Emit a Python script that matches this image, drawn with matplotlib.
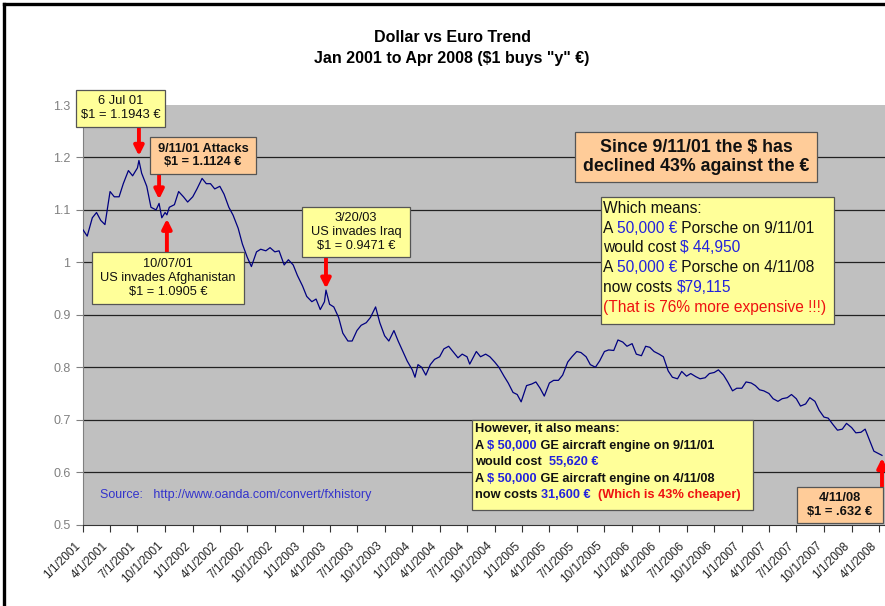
import matplotlib
matplotlib.use("Agg")
import matplotlib.pyplot as plt
import matplotlib.transforms as mtransforms
from matplotlib.patches import Rectangle
from matplotlib.lines import Line2D
import pandas as pd

# USD -> EUR rate ($1 buys y EUR)
dates = [
    "2001-01-01", "2001-01-15", "2001-02-01", "2001-02-15", "2001-03-01", "2001-03-15",
    "2001-04-01", "2001-04-15", "2001-05-01", "2001-05-15", "2001-06-01", "2001-06-15",
    "2001-07-01", "2001-07-06", "2001-07-15", "2001-08-01", "2001-08-15", "2001-09-01",
    "2001-09-11", "2001-09-20", "2001-10-01", "2001-10-07", "2001-10-15", "2001-11-01",
    "2001-11-15", "2001-12-01", "2001-12-15",
    "2002-01-01", "2002-01-15", "2002-02-01", "2002-02-15", "2002-03-01", "2002-03-15",
    "2002-04-01", "2002-04-15", "2002-05-01", "2002-05-15", "2002-06-01", "2002-06-15",
    "2002-07-01", "2002-07-15", "2002-08-01", "2002-08-15", "2002-09-01", "2002-09-15",
    "2002-10-01", "2002-10-15", "2002-11-01", "2002-11-15", "2002-12-01", "2002-12-15",
    "2003-01-01", "2003-01-15", "2003-02-01", "2003-02-15", "2003-03-01", "2003-03-15",
    "2003-03-20", "2003-04-01", "2003-04-15", "2003-05-01", "2003-05-15", "2003-06-01",
    "2003-06-15", "2003-07-01", "2003-07-15", "2003-08-01", "2003-08-15", "2003-09-01",
    "2003-09-15", "2003-10-01", "2003-10-15", "2003-11-01", "2003-11-15", "2003-12-01",
    "2003-12-15",
    "2004-01-01", "2004-01-10", "2004-01-20", "2004-02-01", "2004-02-15", "2004-03-01",
    "2004-03-15", "2004-04-01", "2004-04-15", "2004-05-01", "2004-05-15", "2004-06-01",
    "2004-06-15", "2004-07-01", "2004-07-10", "2004-08-01", "2004-08-15", "2004-09-01",
    "2004-09-15", "2004-10-01", "2004-10-15", "2004-11-01", "2004-11-15", "2004-12-01",
    "2004-12-15", "2004-12-28",
    "2005-01-15", "2005-02-01", "2005-02-15", "2005-03-01", "2005-03-15", "2005-04-01",
    "2005-04-15", "2005-05-01", "2005-05-15", "2005-06-01", "2005-06-15", "2005-07-01",
    "2005-07-15", "2005-08-01", "2005-08-15", "2005-09-01", "2005-09-15", "2005-10-01",
    "2005-10-15", "2005-11-01", "2005-11-15", "2005-12-01", "2005-12-15",
    "2006-01-01", "2006-01-15", "2006-02-01", "2006-02-15", "2006-03-01", "2006-03-15",
    "2006-04-01", "2006-04-15", "2006-05-01", "2006-05-15", "2006-06-01", "2006-06-15",
    "2006-07-01", "2006-07-15", "2006-08-01", "2006-08-15", "2006-09-01", "2006-09-15",
    "2006-10-01", "2006-10-15", "2006-11-01", "2006-11-15", "2006-12-01", "2006-12-15",
    "2007-01-01", "2007-01-15", "2007-02-01", "2007-02-15", "2007-03-01", "2007-03-15",
    "2007-04-01", "2007-04-15", "2007-05-01", "2007-05-15", "2007-06-01", "2007-06-15",
    "2007-07-01", "2007-07-15", "2007-08-01", "2007-08-15", "2007-09-01", "2007-09-15",
    "2007-10-01", "2007-10-15", "2007-11-01", "2007-11-15", "2007-12-01", "2007-12-15",
    "2008-01-01", "2008-01-15", "2008-02-01", "2008-02-15", "2008-03-01", "2008-03-15",
    "2008-04-01", "2008-04-11",
]
usd_eur = [
    1.062, 1.050, 1.085, 1.095, 1.080, 1.072,
    1.135, 1.125, 1.125, 1.150, 1.175, 1.165,
    1.180, 1.1943, 1.170, 1.145, 1.105, 1.100,
    1.1124, 1.085, 1.095, 1.0905, 1.105, 1.110,
    1.135, 1.125, 1.115,
    1.125, 1.140, 1.160, 1.150, 1.150, 1.140,
    1.145, 1.130, 1.105, 1.090, 1.065, 1.035,
    1.010, 0.992, 1.020, 1.025, 1.022, 1.028,
    1.020, 1.022, 0.995, 1.005, 0.995, 0.975,
    0.955, 0.935, 0.925, 0.930, 0.910, 0.925,
    0.9471, 0.920, 0.915, 0.895, 0.865, 0.850,
    0.850, 0.870, 0.880, 0.885, 0.895, 0.915,
    0.885, 0.860, 0.850, 0.870, 0.850, 0.830,
    0.812,
    0.795, 0.781, 0.805, 0.800, 0.785, 0.805,
    0.815, 0.820, 0.835, 0.840, 0.830, 0.818,
    0.825, 0.820, 0.806, 0.830, 0.820, 0.825,
    0.820, 0.810, 0.800, 0.783, 0.770, 0.752,
    0.748, 0.734,
    0.765, 0.768, 0.772, 0.760, 0.745, 0.770,
    0.775, 0.775, 0.785, 0.810, 0.820, 0.830,
    0.828, 0.820, 0.805, 0.800, 0.812, 0.830,
    0.833, 0.832, 0.852, 0.848, 0.840,
    0.845, 0.825, 0.822, 0.840, 0.838, 0.830,
    0.825, 0.820, 0.793, 0.781, 0.778, 0.792,
    0.783, 0.788, 0.782, 0.778, 0.780, 0.788,
    0.790, 0.795, 0.785, 0.772, 0.755, 0.760,
    0.760, 0.772, 0.770, 0.765, 0.757, 0.755,
    0.750, 0.740, 0.735, 0.740, 0.742, 0.748,
    0.740, 0.726, 0.730, 0.742, 0.735, 0.718,
    0.705, 0.703, 0.690, 0.680, 0.682, 0.693,
    0.685, 0.675, 0.676, 0.682, 0.660, 0.640,
    0.635, 0.632,
]

# annotated events
event_dates = ["2001-07-06", "2001-09-11", "2001-10-07", "2003-03-20", "2008-04-11"]
event_values = [1.1943, 1.1124, 1.0905, 0.9471, 0.632]

title1 = "Dollar vs Euro Trend"
title2 = 'Jan 2001 to Apr 2008 ($1 buys "y" \u20ac)'
source_text = "Source:   http://www.oanda.com/convert/fxhistory"

W, H = 885, 606
YELLOW = "#FFFF99"
PEACH = "#FFCC99"
BLUE = "#2222DD"
RED = "#EE1111"

plt.rcParams["font.family"] = ["Liberation Sans", "DejaVu Sans"]

fig = plt.figure(figsize=(W / 100, H / 100), dpi=100)
fig.patch.set_facecolor("white")

ax = fig.add_axes([83 / W, (H - 524.6) / H, 802 / W, (524.6 - 105) / H])
ax.set_facecolor("#C0C0C0")

x = pd.to_datetime(dates)
ax.plot(x, usd_eur, color="#000080", lw=0.9, zorder=3)

ax.set_ylim(0.5, 1.3)
ax.set_xlim(pd.Timestamp("2001-01-01"), pd.Timestamp("2008-04-21"))
ax.set_yticks([0.5, 0.6, 0.7, 0.8, 0.9, 1.0, 1.1, 1.2, 1.3])
ax.set_yticklabels(["0.5", "0.6", "0.7", "0.8", "0.9", "1", "1.1", "1.2", "1.3"])
for v in [0.6, 0.7, 0.8, 0.9, 1.0, 1.1, 1.2]:
    ax.axhline(v, color="#222222", lw=0.9, zorder=1)

qticks = pd.date_range("2001-01-01", "2008-04-01", freq="QS")
ax.set_xticks(qticks)
ax.set_xticklabels([f"{d.month}/{d.day}/{d.year}" for d in qticks],
                   rotation=45, ha="right", va="center", rotation_mode="anchor")
ax.tick_params(axis="x", direction="out", length=5, color="#333333",
               labelsize=8.5, labelcolor="#222222", pad=9)
ax.tick_params(axis="y", direction="out", length=5, color="#808080",
               labelsize=9, labelcolor="#808080", pad=4)
shift = mtransforms.ScaledTranslation(-4 / 100, 0, fig.dpi_scale_trans)
for lab in ax.get_xticklabels():
    lab.set_transform(lab.get_transform() + shift)
for s in ["top", "right"]:
    ax.spines[s].set_visible(False)
ax.spines["left"].set_color("#808080")
ax.spines["bottom"].set_color("#333333")

# titles
fig.text(452 / W, 1 - 37 / H, title1, ha="center", va="center", fontsize=11.5,
         fontweight="bold")
fig.text(452 / W, 1 - 59 / H, title2, ha="center", va="center", fontsize=11.5,
         fontweight="bold")

ax.text(100 / W, 1 - 495 / H, source_text, transform=fig.transFigure,
        color="#3333CC", fontsize=9, va="center", ha="left", zorder=4)


def fx(px):
    return px / W


def fy(py):
    return 1 - py / H


def box(x0, y0, x1, y1, color):
    r = Rectangle((fx(x0), fy(y1)), fx(x1) - fx(x0), fy(y0) - fy(y1),
                  transform=fig.transFigure, facecolor=color, edgecolor="#555555",
                  lw=0.9, zorder=5, clip_on=False)
    ax.add_patch(r)


def centered(x0, y0, x1, y1, color, text, size, bold=False, spacing=1.2):
    box(x0, y0, x1, y1, color)
    ax.text(fx((x0 + x1) / 2), fy((y0 + y1) / 2), text, transform=fig.transFigure,
            ha="center", va="center", fontsize=size, linespacing=spacing,
            fontweight="bold" if bold else "normal", color="#111111",
            zorder=6, clip_on=False)


def rich_line(px, py, parts, size, bold=False):
    t = ax.text(fx(px), fy(py), parts[0][0], color=parts[0][1], fontsize=size,
                transform=fig.transFigure, va="center", ha="left", zorder=6,
                fontweight="bold" if bold else "normal")
    for seg, col in parts[1:]:
        t = ax.annotate(seg, xy=(1, 0.5), xycoords=t, va="center", ha="left",
                        color=col, fontsize=size, zorder=6,
                        fontweight="bold" if bold else "normal")


# arrows (start -> tip, in value units)
arrow_from = [1.26, 1.168, 1.02, 1.01, 0.572]
arrow_tip = [1.203, 1.120, 1.083, 0.950, 0.627]
for d, a, b in zip(event_dates, arrow_from, arrow_tip):
    ax.annotate("", xy=(pd.Timestamp(d), b), xytext=(pd.Timestamp(d), a),
                arrowprops=dict(arrowstyle="-|>", color="red", lw=2.8,
                                mutation_scale=14, shrinkA=0, shrinkB=0),
                zorder=4, annotation_clip=False)

centered(76, 90, 165, 126.5, YELLOW, "6 Jul 01\n$1 = 1.1943 \u20ac", 9.3)
centered(150, 137, 256, 174, PEACH, "9/11/01 Attacks\n$1 = 1.1124 \u20ac", 9.2, bold=True)
centered(92, 252, 244, 304, YELLOW,
         "10/07/01\nUS invades Afghanistan\n$1 = 1.0905 \u20ac", 9.2)
centered(302, 207, 410, 257, YELLOW, "3/20/03\nUS invades Iraq\n$1 = 0.9471 \u20ac", 9.2)
centered(575, 132, 817, 182, PEACH,
         "Since 9/11/01 the $ has\ndeclined 43% against the \u20ac", 12.8, bold=True,
         spacing=1.15)
centered(797, 487, 883, 523, PEACH, "4/11/08\n$1 = .632 \u20ac", 9.3, bold=True)

# "Which means" box
box(601, 197, 834, 324, YELLOW)
which_lines = [
    [("Which means:", "#111111")],
    [("A ", "#111111"), ("50,000 \u20ac", BLUE), (" Porsche on 9/11/01", "#111111")],
    [("would cost ", "#111111"), ("$ 44,950", BLUE)],
    [("A ", "#111111"), ("50,000 \u20ac", BLUE), (" Porsche on 4/11/08", "#111111")],
    [("now costs ", "#111111"), ("$79,115", BLUE)],
    [("(That is 76% more expensive !!!)", RED)],
]
for i, parts in enumerate(which_lines):
    rich_line(603, 208.3 + i * 19.8, parts, 11.2)

# "However" box
box(472, 420, 753, 510, YELLOW)
however_lines = [
    [("However, it also means:", "#111111")],
    [("A ", "#111111"), ("$ 50,000", BLUE), (" GE aircraft engine on 9/11/01", "#111111")],
    [("would cost  ", "#111111"), ("55,620 \u20ac", BLUE)],
    [("A ", "#111111"), ("$ 50,000", BLUE), (" GE aircraft engine on 4/11/08", "#111111")],
    [("now costs ", "#111111"), ("31,600 \u20ac", BLUE),
     ("  (Which is 43% cheaper)", RED)],
]
for i, parts in enumerate(however_lines):
    rich_line(475, 429.5 + i * 16.4, parts, 9.2, bold=True)

# outer frame of the picture (left and top edges)
fig.add_artist(Line2D([fx(4), fx(4)], [0, fy(4)], color="black", lw=2.4,
                      transform=fig.transFigure))
fig.add_artist(Line2D([fx(4), 1], [fy(4), fy(4)], color="black", lw=2.4,
                      transform=fig.transFigure))

fig.savefig("out.png", dpi=100)
